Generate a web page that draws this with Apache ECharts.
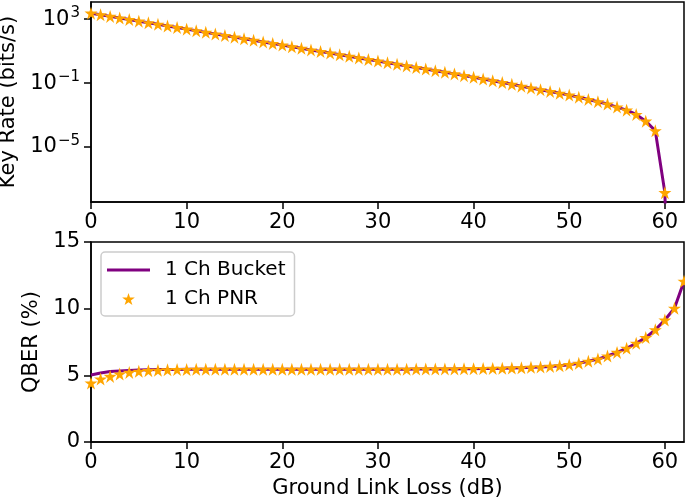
<!DOCTYPE html>
<html>
<head>
<meta charset="utf-8">
<script src="https://cdn.jsdelivr.net/npm/echarts@6/dist/echarts.min.js"></script>
<style>
  html, body { margin: 0; padding: 0; background: #fff; }
  #chart { width: 685px; height: 502px; }
</style>
</head>
<body>
<div id="chart"></div>
<script>
// ground link loss (dB)
var lossTop = [0, 1, 2, 3, 4, 5, 6, 7, 8, 9, 10, 11, 12, 13, 14, 15, 16, 17, 18, 19, 20,
  21, 22, 23, 24, 25, 26, 27, 28, 29, 30, 31, 32, 33, 34, 35, 36, 37, 38, 39, 40,
  41, 42, 43, 44, 45, 46, 47, 48, 49, 50, 51, 52, 53, 54, 55, 56, 57, 58, 59, 60];
var lossBottom = lossTop.concat([61, 62]);

// key rate (bits/s), 1 Ch PNR
var pnrRate = [2400, 1900, 1510, 1200, 955, 759, 603, 479, 380, 302, 240,
  191, 151, 120, 95.5, 75.9, 60.3, 47.9, 38.0, 30.2, 24.0,
  19.1, 15.1, 12.0, 9.55, 7.59, 6.03, 4.79, 3.80, 3.02, 2.40,
  1.91, 1.51, 1.20, 0.955, 0.759, 0.603, 0.479, 0.380, 0.295, 0.23,
  0.182, 0.141, 0.110, 0.0851, 0.0646, 0.0501, 0.0389, 0.0302, 0.0234, 0.0178,
  0.0132, 0.00955, 0.00692, 0.0049, 0.00316, 0.00204, 0.0011, 0.000417, 0.000105, 1.4e-8];
// key rate (bits/s), 1 Ch Bucket (same curve, drops off the axis right after 60 dB)
var bucketLossTop = lossTop.concat([60.1]);
var bucketRate = pnrRate.concat([1e-10]);

// QBER (%)
var pnrQber = [4.42, 4.72, 4.92, 5.1, 5.22, 5.3, 5.35, 5.38, 5.41, 5.43, 5.44,
  5.45, 5.45, 5.45, 5.45, 5.45, 5.45, 5.45, 5.45, 5.45, 5.45,
  5.45, 5.45, 5.45, 5.45, 5.45, 5.45, 5.45, 5.45, 5.45, 5.45,
  5.46, 5.46, 5.46, 5.47, 5.47, 5.47, 5.48, 5.48, 5.49, 5.5,
  5.51, 5.52, 5.53, 5.55, 5.57, 5.6, 5.63, 5.67, 5.72, 5.8,
  5.9, 6.05, 6.22, 6.45, 6.72, 7.03, 7.4, 7.83, 8.42, 9.15,
  10.03, 12.05];
var bucketQber = [5.03, 5.18, 5.28, 5.33, 5.37, 5.4, 5.42, 5.43, 5.44, 5.44, 5.45,
  5.45, 5.45, 5.45, 5.45, 5.45, 5.45, 5.45, 5.45, 5.45, 5.45,
  5.45, 5.45, 5.45, 5.45, 5.45, 5.45, 5.45, 5.45, 5.45, 5.45,
  5.46, 5.46, 5.46, 5.47, 5.47, 5.47, 5.48, 5.48, 5.49, 5.5,
  5.51, 5.52, 5.53, 5.55, 5.57, 5.6, 5.63, 5.67, 5.72, 5.8,
  5.9, 6.05, 6.22, 6.45, 6.72, 7.03, 7.4, 7.83, 8.42, 9.15,
  10.03, 12.05];

var xTicks = [0, 10, 20, 30, 40, 50, 60];
var rateTicks = [1e-5, 0.1, 1000];

var FONT = "DejaVu Sans";
var FS = 21;
var BLACK = "#000";
var STAR = "path://M50,0 L61.2,34.5 L97.6,34.5 L68.2,55.9 L79.4,90.5 L50,69.1 L20.6,90.5 L31.8,55.9 L2.4,34.5 L38.8,34.5 Z";
var LINE_ICON = "path://M0,0 L43,0 L43,3 L0,3 Z";

function zip(xs, ys) {
  return ys.map(function (y, i) { return [xs[i], y]; });
}

// 10^n with a raised exponent
function sciLabel(v) {
  var e = Math.round(Math.log10(v));
  return "{b|10}{e|" + String(e).replace("-", "\u2212") + "}";
}

function xAxis(gridIndex, name) {
  return {
    type: "value",
    gridIndex: gridIndex,
    min: 0,
    max: 62,
    name: name,
    nameLocation: "middle",
    nameGap: 36,
    nameTextStyle: { fontSize: FS, color: BLACK, fontFamily: FONT },
    axisLine: { onZero: false, lineStyle: { color: BLACK, width: 1.5 } },
    axisTick: { length: 7, customValues: xTicks, lineStyle: { color: BLACK, width: 1.5 } },
    axisLabel: { customValues: xTicks, fontSize: FS, color: BLACK, fontFamily: FONT, margin: 10 },
    splitLine: { show: false }
  };
}

var chart = echarts.init(document.getElementById("chart"));

var option = {
  animation: false,
  grid: [
    { left: 91, top: 2, width: 593, height: 200, outerBoundsMode: "none",
      show: true, borderColor: BLACK, borderWidth: 1.5 },
    { left: 91, top: 242, width: 593, height: 200, outerBoundsMode: "none",
      show: true, borderColor: BLACK, borderWidth: 1.5 }
  ],
  legend: {
    data: [
      { name: "1 Ch Bucket", icon: LINE_ICON },
      { name: "1 Ch PNR" }
    ],
    orient: "vertical",
    left: 101,
    top: 252,
    itemWidth: 43,
    itemHeight: 12,
    itemGap: 9,
    padding: [8, 9, 7, 6],
    selectedMode: false,
    backgroundColor: "rgba(255,255,255,0.8)",
    borderColor: "#ccc",
    borderWidth: 1.5,
    borderRadius: 4,
    textStyle: { fontSize: 20, color: BLACK, fontFamily: FONT, padding: [0, 0, 0, 10] }
  },
  xAxis: [xAxis(0, ""), xAxis(1, "Ground Link Loss (dB)")],
  yAxis: [
    {
      type: "log",
      gridIndex: 0,
      min: 3.63e-9,
      max: 1.2e4,
      name: "Key Rate (bits/s)",
      nameLocation: "middle",
      nameGap: 68,
      nameTextStyle: { fontSize: FS, color: BLACK, fontFamily: FONT },
      axisLine: { lineStyle: { color: BLACK, width: 1.5 } },
      axisTick: { length: 7, customValues: rateTicks, lineStyle: { color: BLACK, width: 1.5 } },
      minorTick: { show: false },
      axisLabel: {
        customValues: rateTicks,
        margin: 11,
        formatter: sciLabel,
        rich: {
          b: { fontSize: FS, color: BLACK, fontFamily: FONT },
          e: { fontSize: 15, color: BLACK, fontFamily: FONT, padding: [0, 0, 12, 1] }
        }
      },
      splitLine: { show: false }
    },
    {
      type: "value",
      gridIndex: 1,
      min: 0,
      max: 15,
      interval: 5,
      name: "QBER (%)",
      nameLocation: "middle",
      nameGap: 46,
      nameTextStyle: { fontSize: FS, color: BLACK, fontFamily: FONT },
      axisLine: { lineStyle: { color: BLACK, width: 1.5 } },
      axisTick: { length: 7, lineStyle: { color: BLACK, width: 1.5 } },
      axisLabel: { fontSize: FS, color: BLACK, fontFamily: FONT, margin: 11 },
      splitLine: { show: false }
    }
  ],
  series: [
    {
      name: "1 Ch Bucket",
      type: "line",
      xAxisIndex: 0,
      yAxisIndex: 0,
      data: zip(bucketLossTop, bucketRate),
      symbol: "none",
      lineStyle: { color: "#800080", width: 3 },
      itemStyle: { color: "#800080" },
      z: 2
    },
    {
      name: "1 Ch PNR",
      type: "scatter",
      xAxisIndex: 0,
      yAxisIndex: 0,
      data: zip(lossTop, pnrRate),
      symbol: STAR,
      symbolSize: 13,
      itemStyle: { color: "#FFA500", opacity: 1 },
      z: 3
    },
    {
      name: "1 Ch Bucket",
      type: "line",
      xAxisIndex: 1,
      yAxisIndex: 1,
      data: zip(lossBottom, bucketQber),
      symbol: "none",
      lineStyle: { color: "#800080", width: 3 },
      itemStyle: { color: "#800080" },
      z: 2
    },
    {
      name: "1 Ch PNR",
      type: "scatter",
      xAxisIndex: 1,
      yAxisIndex: 1,
      data: zip(lossBottom, pnrQber),
      symbol: STAR,
      symbolSize: 13,
      itemStyle: { color: "#FFA500", opacity: 1 },
      z: 3
    }
  ]
};

chart.setOption(option);
</script>
</body>
</html>
